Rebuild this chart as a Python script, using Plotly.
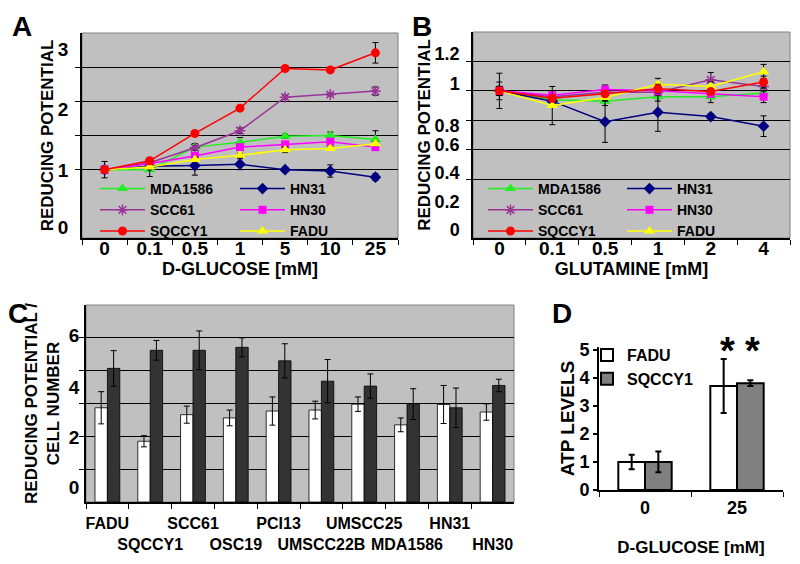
import plotly.graph_objects as go

# ---------------- data ----------------
GLUCOSE_MM = ['0', '0.1', '0.5', '1', '5', '10', '25']
GLUTAMINE_MM = ['0', '0.1', '0.5', '1', '2', '4']

# Panel A: reducing potential vs D-glucose
A_MDA1586 = [1.0, 1.00, 1.33, 1.40, 1.49, 1.50, 1.44]
A_MDA1586_ERR = [0.05, 0.10, 0.05, 0.07, 0.03, 0.05, 0.13]
A_SCC61 = [1.0, 1.10, 1.32, 1.57, 2.06, 2.10, 2.15]
A_SCC61_ERR = [0.03, 0.03, 0.03, 0.04, 0.03, 0.02, 0.06]
A_SQCCY1 = [1.0, 1.13, 1.53, 1.90, 2.48, 2.46, 2.71]
A_SQCCY1_ERR = [0.04, 0.04, 0.02, 0.03, 0.03, 0.03, 0.15]
A_HN31 = [1.0, 1.05, 1.06, 1.08, 1.00, 0.98, 0.89]
A_HN31_ERR = [0.12, 0.03, 0.14, 0.08, 0.03, 0.09, 0.05]
A_HN30 = [1.0, 1.09, 1.20, 1.33, 1.37, 1.41, 1.33]
A_HN30_ERR = [0.03, 0.02, 0.03, 0.03, 0.03, 0.03, 0.03]
A_FADU = [1.0, 1.04, 1.15, 1.21, 1.29, 1.31, 1.38]
A_FADU_ERR = [0.03, 0.03, 0.03, 0.03, 0.04, 0.03, 0.03]
A_YTICK_POS = [0.15, 0.99, 1.88, 2.76]
A_YTICK_TEXT = ['0', '1', '2', '3']

# Panel B: reducing potential vs glutamine
B_MDA1586 = [1.0, 0.94, 0.93, 0.96, 0.96, 0.985]
B_MDA1586_ERR = [0.12, 0.03, 0.03, 0.03, 0.04, 0.03]
B_SCC61 = [1.0, 0.96, 0.99, 0.99, 1.075, 1.03]
B_SCC61_ERR = [0.03, 0.02, 0.02, 0.02, 0.05, 0.03]
B_SQCCY1 = [1.0, 0.95, 0.98, 1.015, 0.995, 1.06]
B_SQCCY1_ERR = [0.03, 0.02, 0.02, 0.03, 0.02, 0.04]
B_HN31 = [1.0, 0.93, 0.79, 0.855, 0.825, 0.76]
B_HN31_ERR = [0.06, 0.03, 0.14, 0.13, 0.02, 0.07]
B_HN30 = [1.0, 0.97, 1.01, 1.00, 0.98, 0.96]
B_HN30_ERR = [0.03, 0.02, 0.03, 0.02, 0.02, 0.04]
B_FADU = [1.0, 0.90, 0.955, 1.045, 1.03, 1.13]
B_FADU_ERR = [0.03, 0.13, 0.02, 0.04, 0.03, 0.05]
B_YTICK_POS = [0.054, 0.247, 0.444, 0.635, 0.76, 1.052, 1.25]
B_YTICK_TEXT = ['0', '0.2', '0.4', '0.6', '0.8', '1', '1.2']

# Panel C: reducing potential / cell number
CELL_LINES = ['FADU', 'SQCCY1', 'SCC61', 'OSC19', 'PCI13', 'UMSCC22B',
              'UMSCC25', 'MDA1586', 'HN31', 'HN30']
C_WHITE = [2.87, 1.85, 2.66, 2.56, 2.77, 2.80, 2.98, 2.35, 2.97, 2.74]
C_WHITE_ERR = [0.49, 0.17, 0.26, 0.24, 0.43, 0.27, 0.22, 0.21, 0.58, 0.25]
C_DARK = [4.07, 4.62, 4.62, 4.71, 4.30, 3.68, 3.53, 2.98, 2.87, 3.55]
C_DARK_ERR = [0.54, 0.30, 0.59, 0.29, 0.52, 0.66, 0.37, 0.47, 0.60, 0.19]
C_YTICK_POS = [0.46, 1.98, 3.48, 5.08]
C_YTICK_TEXT = ['0', '2', '4', '6']

# Panel D: ATP levels
ATP_GLUCOSE = ['0', '25']
D_FADU = [1.0, 3.71]
D_FADU_ERR = [0.26, 0.96]
D_SQCCY1 = [1.0, 3.81]
D_SQCCY1_ERR = [0.37, 0.10]

# ---------------- styling ----------------
FONT = "Arial, 'Liberation Sans', Helvetica, sans-serif"
W, H = 800, 564
OFF = 8  # page body margin of the html page


def f(size):
    return dict(family=FONT, color='black', size=size, weight='bold')


def px_x(p):
    return (p - OFF) / W


def px_y(p):
    return (H - (p - OFF)) / H


STYLE = {
    'MDA1586': dict(color='#22ee22', symbol='triangle-up', size=10),
    'SCC61': dict(color='#993399', symbol='asterisk-open', size=9),
    'SQCCY1': dict(color='#ff0000', symbol='circle', size=9),
    'HN31': dict(color='#000080', symbol='diamond', size=9),
    'HN30': dict(color='#ff00ff', symbol='square', size=8),
    'FADU': dict(color='#ffff00', symbol='triangle-up', size=10),
}
ORDER = ['MDA1586', 'SCC61', 'HN31', 'HN30', 'FADU', 'SQCCY1']
COLUMN = {'MDA1586': 1, 'SCC61': 1, 'SQCCY1': 1, 'HN31': 2, 'HN30': 2, 'FADU': 2}

A_DATA = {
    'MDA1586': (A_MDA1586, A_MDA1586_ERR), 'SCC61': (A_SCC61, A_SCC61_ERR),
    'SQCCY1': (A_SQCCY1, A_SQCCY1_ERR), 'HN31': (A_HN31, A_HN31_ERR),
    'HN30': (A_HN30, A_HN30_ERR), 'FADU': (A_FADU, A_FADU_ERR),
}
B_DATA = {
    'MDA1586': (B_MDA1586, B_MDA1586_ERR), 'SCC61': (B_SCC61, B_SCC61_ERR),
    'SQCCY1': (B_SQCCY1, B_SQCCY1_ERR), 'HN31': (B_HN31, B_HN31_ERR),
    'HN30': (B_HN30, B_HN30_ERR), 'FADU': (B_FADU, B_FADU_ERR),
}

fig = go.Figure()


def add_lines(xcats, data, xa, ya, leg1, leg2):
    for name in ORDER:
        vals, errs = data[name]
        st = STYLE[name]
        fig.add_trace(go.Scatter(
            x=xcats, y=vals, name=name, mode='lines+markers',
            xaxis=xa, yaxis=ya,
            legend=leg1 if COLUMN[name] == 1 else leg2,
            line=dict(color=st['color'], width=1.5),
            marker=dict(color=st['color'], symbol=st['symbol'], size=st['size'],
                        line=dict(color=st['color'], width=1.5 if 'open' in st['symbol'] else 0)),
            error_y=dict(type='data', array=errs, color='black', thickness=1, width=3),
        ))


add_lines(GLUCOSE_MM, A_DATA, 'x', 'y', 'legend', 'legend2')
add_lines(GLUTAMINE_MM, B_DATA, 'x2', 'y2', 'legend3', 'legend4')

# Panel C bars
fig.add_trace(go.Bar(
    x=CELL_LINES, y=C_WHITE, xaxis='x3', yaxis='y3', showlegend=False, name='white',
    marker=dict(color='white', line=dict(color='black', width=0.8)),
    error_y=dict(type='data', array=C_WHITE_ERR, color='black', thickness=1, width=3),
))
fig.add_trace(go.Bar(
    x=CELL_LINES, y=C_DARK, xaxis='x3', yaxis='y3', showlegend=False, name='dark',
    marker=dict(color='#333333', line=dict(color='black', width=0.8)),
    error_y=dict(type='data', array=C_DARK_ERR, color='black', thickness=1, width=3),
))

# Panel D bars
fig.add_trace(go.Bar(
    x=ATP_GLUCOSE, y=D_FADU, xaxis='x4', yaxis='y4', name='FADU', legend='legend5',
    marker=dict(color='white', line=dict(color='black', width=2)),
    error_y=dict(type='data', array=D_FADU_ERR, color='black', thickness=2, width=3),
))
fig.add_trace(go.Bar(
    x=ATP_GLUCOSE, y=D_SQCCY1, xaxis='x4', yaxis='y4', name='SQCCY1', legend='legend5',
    marker=dict(color='#808080', line=dict(color='black', width=2)),
    error_y=dict(type='data', array=D_SQCCY1_ERR, color='black', thickness=2, width=3),
))


# ---------------- axes ----------------
def cat_x(domain, anchor, n, title, tfont, title_font, standoff, lstand, ticktext=None, lw=1.5):
    d = dict(domain=domain, anchor=anchor, type='category', range=[-0.5, n - 0.5],
             showline=True, linecolor='black', linewidth=lw, ticks='outside',
             tickson='boundaries', ticklen=5, tickcolor='black', tickfont=tfont,
             showgrid=False, zeroline=False, automargin=False, tickangle=0,
             ticklabelstandoff=lstand,
             title=dict(text=title, font=title_font, standoff=standoff))
    if ticktext is not None:
        d['tickmode'] = 'array'
        d['tickvals'] = list(range(n))
        d['ticktext'] = ticktext
    return d


def grid_y(domain, anchor, rng, tickpos, ticktext, minor_vals, title, tfont, title_font,
           standoff, lstand):
    return dict(domain=domain, anchor=anchor, range=rng, tickmode='array',
                tickvals=tickpos, ticktext=ticktext, ticks='', showgrid=False,
                zeroline=False, showline=True, linecolor='black', linewidth=1.5,
                tickfont=tfont, ticklabelstandoff=lstand, automargin=False,
                minor=dict(tickmode='array', tickvals=minor_vals, ticks='outside', ticklen=5,
                           tickcolor='black', showgrid=True, gridcolor='black', gridwidth=1.2),
                title=dict(text=title, font=title_font, standoff=standoff))


A_GRID = [1.0, 1.5, 2.0, 2.5]
B_GRID = [0.4, 0.6, 0.8, 1.0, 1.2]
C_GRID = [1, 2, 3, 4, 5]

c_ticktext = [n if i % 2 == 0 else '<br>' + n for i, n in enumerate(CELL_LINES)]

fig.update_layout(
    width=W, height=H, autosize=False,
    margin=dict(l=0, r=0, t=0, b=0, pad=0, autoexpand=False),
    paper_bgcolor='white', plot_bgcolor='rgba(0,0,0,0)',
    barmode='group', bargap=0.42, bargroupgap=0,
    font=dict(family=FONT, color='black'),
    xaxis=cat_x([px_x(82), px_x(398)], 'y', len(GLUCOSE_MM), 'D-GLUCOSE [mM]', f(19), f(18), 2, -8),
    yaxis=grid_y([px_y(238), px_y(33)], 'x', [0, 3.0], A_YTICK_POS, A_YTICK_TEXT, A_GRID,
                 'REDUCING POTENTIAL', f(19), f(17), 0, 8),
    xaxis2=cat_x([px_x(473), px_x(790)], 'y2', len(GLUTAMINE_MM), 'GLUTAMINE [mM]', f(19), f(18), 2, -8),
    yaxis2=grid_y([px_y(238), px_y(32)], 'x2', [0, 1.4], B_YTICK_POS, B_YTICK_TEXT, B_GRID,
                  'REDUCING POTENTIAL', f(18), f(17), 0, 8),
    xaxis3=cat_x([px_x(86), px_x(514)], 'y3', len(CELL_LINES), '', f(16), f(16), 0, 6,
                 ticktext=c_ticktext),
    yaxis3=grid_y([px_y(502), px_y(305)], 'x3', [0, 6], C_YTICK_POS, C_YTICK_TEXT, C_GRID,
                  'REDUCING POTENTIAL /<br>CELL NUMBER', f(19), f(17), 5, 1),
    xaxis4=cat_x([px_x(599), px_x(783)], 'y4', len(ATP_GLUCOSE), 'D-GLUCOSE [mM]', f(18), f(17), 25, 0,
                 lw=2),
    yaxis4=dict(domain=[px_y(490), px_y(347)], anchor='x4', range=[0, 5.1], dtick=1,
                ticks='outside', ticklen=4, tickcolor='black', tickwidth=1.5, automargin=False,
                showline=True, linecolor='black', linewidth=2, showgrid=False, zeroline=False,
                tickfont=f(18), title=dict(text='ATP LEVELS', font=f(19), standoff=0)),
)

LEG = dict(orientation='v', xanchor='left', yanchor='top', bgcolor='rgba(0,0,0,0)',
           borderwidth=0, font=f(14), itemwidth=45, tracegroupgap=0)
fig.update_layout(
    legend=dict(LEG, x=px_x(95), y=px_y(173)),
    legend2=dict(LEG, x=px_x(235), y=px_y(173)),
    legend3=dict(LEG, x=px_x(483), y=px_y(173)),
    legend4=dict(LEG, x=px_x(622), y=px_y(173)),
    legend5=dict(orientation='v', xanchor='left', yanchor='top', bgcolor='rgba(0,0,0,0)',
                 font=f(16), itemwidth=30, x=px_x(587), y=px_y(338)),
)

# plot-area backgrounds (grey Excel style) for A, B, C
shapes = []
for xa, ya in [('x', 'y'), ('x2', 'y2'), ('x3', 'y3')]:
    shapes.append(dict(type='rect', xref=f'{xa} domain', yref=f'{ya} domain',
                       x0=0, x1=1, y0=0, y1=1, fillcolor='#c0c0c0',
                       line=dict(color='#808080', width=1), layer='below'))
fig.update_layout(shapes=shapes)

# panel letters and significance stars
ann = []
for letter, (x, y) in {'A': (22, 27), 'B': (422, 27), 'C': (18, 313), 'D': (562, 313)}.items():
    ann.append(dict(text=letter, x=px_x(x), y=px_y(y), xref='paper', yref='paper',
                    showarrow=False, font=f(28), xanchor='center', yanchor='middle'))
for x in [727, 752]:
    ann.append(dict(text='*', x=px_x(x), y=px_y(351), xref='paper', yref='paper',
                    showarrow=False, font=f(38), xanchor='center', yanchor='middle'))
fig.update_layout(annotations=ann)

fig.write_html('out.html')
